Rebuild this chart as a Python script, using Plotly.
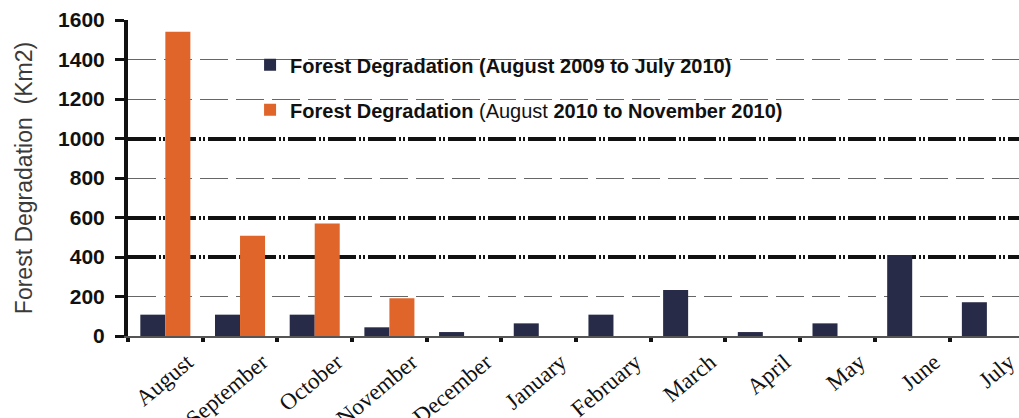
import plotly.graph_objects as go

months = ["August", "September", "October", "November", "December", "January",
          "February", "March", "April", "May", "June", "July"]
deg_2009_2010 = [108, 108, 108, 44, 20, 64, 108, 233, 20, 64, 410, 171]
deg_2010 = [1540, 507, 570, 191, None, None, None, None, None, None, None, None]

thin_grid = [200, 800, 1200, 1400, 1600]
thick_grid = [400, 600, 1000]
y_ticks = [0, 200, 400, 600, 800, 1000, 1200, 1400, 1600]

navy = "#272b47"
orange = "#e0652a"

fig = go.Figure()
fig.add_trace(go.Bar(
    x=months, y=deg_2009_2010, marker_color=navy, marker_line_width=0,
    legendgroup="a",
    name="<b>Forest Degradation (August 2009 to July 2010)</b>",
))
fig.add_trace(go.Bar(
    x=months, y=deg_2010, marker_color=orange, marker_line_width=0,
    legendgroup="b",
    name="<b>Forest Degradation</b> (August <b>2010 to November 2010)</b>",
))

fig.update_layout(
    width=1019, height=418,
    margin=dict(l=128, r=0, t=20, b=82),
    paper_bgcolor="white", plot_bgcolor="rgba(0,0,0,0)",
    barmode="group", bargap=0.33, bargroupgap=0,
    font=dict(family="Liberation Sans, Arial, sans-serif", color="#111"),
    legend=dict(
        x=0.137, y=0.92, xanchor="left", yanchor="top",
        bgcolor="rgba(0,0,0,0)", font=dict(size=20, color="#111"),
        tracegroupgap=16, itemsizing="constant", itemwidth=30,
    ),
    xaxis=dict(
        range=[-0.5, 11.43], showgrid=False, automargin=False,
        showline=True, linecolor="#555", linewidth=1.5,
        ticks="outside", tickson="boundaries", ticklen=4, tickwidth=4, tickcolor="#111",
        tickangle=-40, ticklabelshift=22, ticklabelstandoff=2,
        tickfont=dict(family="Liberation Serif, Times New Roman, serif", size=23, color="#111"),
    ),
    yaxis=dict(
        range=[0, 1600], tickvals=y_ticks, automargin=False,
        ticktext=[f"<b>{v}</b>" for v in y_ticks],
        tickfont=dict(size=21, color="#111"),
        showgrid=False, zeroline=False,
        showline=True, linecolor="#111", linewidth=4,
        ticks="outside", ticklen=9, tickwidth=3, tickcolor="#111",
        ticklabelstandoff=6,
        title=dict(text="Forest Degradation  (Km2)", font=dict(size=23, color="#3a3a3a"), standoff=20),
    ),
    yaxis2=dict(
        range=[0, 1600], overlaying="y", tickvals=thin_grid, showticklabels=False,
        showgrid=True, gridcolor="#666", gridwidth=1.3, griddash="28px,8px",
        zeroline=False, layer="below traces",
    ),
    yaxis3=dict(
        range=[0, 1600], overlaying="y", tickvals=thick_grid, showticklabels=False,
        showgrid=True, gridcolor="#111", gridwidth=4, griddash="28px,3px,2px,2px,2px,3px",
        zeroline=False, layer="below traces",
    ),
)

# invisible traces to attach the two grid axes
fig.add_trace(go.Scatter(x=[months[0]], y=[0], yaxis="y2", mode="markers",
                         marker=dict(opacity=0), showlegend=False, hoverinfo="skip"))
fig.add_trace(go.Scatter(x=[months[0]], y=[0], yaxis="y3", mode="markers",
                         marker=dict(opacity=0), showlegend=False, hoverinfo="skip"))

fig.write_html("out.html")
